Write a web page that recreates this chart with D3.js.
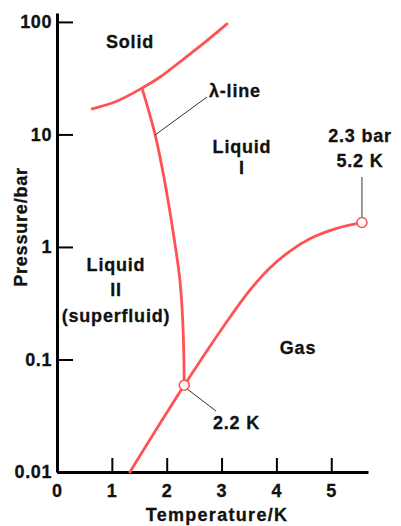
<!DOCTYPE html>
<html>
<head>
<meta charset="utf-8">
<script src="https://cdn.jsdelivr.net/npm/d3@7"></script>
<style>
  body { margin: 0; background: #fff; }
  text { font-family: "Liberation Sans", Arial, Helvetica, sans-serif; font-weight: bold; fill: #111; stroke: #111; stroke-width: 0.3px; }
</style>
</head>
<body>
<script>
// Phase diagram of helium-4
var xTicks = [0, 1, 2, 3, 4, 5];
var yTicks = [100, 10, 1, 0.1, 0.01];
var yTickLabels = ["100", "10", "1", "0.1", "0.01"];

// melting curve (solid / liquid)
var meltT = [0.64, 1.02, 1.55, 1.88, 2.24, 2.66, 3.10];
var meltP = [16.9, 19.1, 25.8, 32.4, 44.1, 63.7, 96];

// lambda line (liquid I / liquid II)
var lambdaT = [1.55, 1.79, 1.96, 2.12, 2.24, 2.30, 2.32];
var lambdaP = [25.8, 9.9, 3.9, 1.33, 0.51, 0.18, 0.059];

// vapour pressure curve
var vapT = [1.33, 2.32, 3.16, 3.52, 3.88, 4.25, 4.61, 5.10, 5.56];
var vapP = [0.01, 0.059, 0.24, 0.415, 0.65, 0.92, 1.18, 1.46, 1.65];

// special points: lambda point and critical point
var pointT = [2.32, 5.56];
var pointP = [0.059, 1.65];

var width = 401, height = 526;
var red = "#ff5252";

var svg = d3.select("body").append("svg")
  .attr("width", width)
  .attr("height", height);

svg.append("rect").attr("width", width).attr("height", height).attr("fill", "#fff");

// Set the ranges
var x = d3.scaleLinear().domain([0, 5.67]).range([57, 368]);
var y = d3.scaleLog().domain([0.01, 120]).range([472, 13]);

// Axes (ticks point inwards)
svg.append("g")
  .attr("transform", "translate(0," + y(0.01) + ")")
  .call(d3.axisTop(x).tickValues(xTicks).tickSize(14).tickSizeOuter(0).tickFormat(""));

svg.append("g")
  .attr("transform", "translate(" + x(0) + ",0)")
  .call(d3.axisRight(y).tickValues(yTicks).tickSize(16).tickSizeOuter(0).tickFormat(""));

svg.selectAll(".domain").attr("stroke", "#000").attr("stroke-width", 3);
svg.selectAll(".tick line").attr("stroke", "#000").attr("stroke-width", 2);

// tick labels
svg.selectAll(".xlab")
  .data(xTicks)
  .enter().append("text")
  .attr("x", function (d) { return x(d); })
  .attr("y", 497)
  .attr("text-anchor", "middle")
  .style("font-size", "18px")
  .text(function (d) { return d; });

svg.selectAll(".ylab")
  .data(yTicks)
  .enter().append("text")
  .attr("x", 52)
  .attr("y", function (d) { return y(d); })
  .attr("dy", "0.36em")
  .attr("text-anchor", "end")
  .style("font-size", "18px")
  .style("letter-spacing", "0.6px")
  .text(function (d, i) { return yTickLabels[i]; });

// axis titles
svg.append("text")
  .attr("x", 217)
  .attr("y", 521)
  .attr("text-anchor", "middle")
  .style("font-size", "18px")
  .style("letter-spacing", "1.3px")
  .text("Temperature/K");

svg.append("text")
  .attr("transform", "rotate(-90)")
  .attr("x", -227)
  .attr("y", 27)
  .attr("text-anchor", "middle")
  .style("font-size", "18px")
  .style("letter-spacing", "0.8px")
  .text("Pressure/bar");

// curves
function pts(ts, ps) {
  return ts.map(function (t, i) { return [t, ps[i]]; });
}

function curveLine(curve) {
  return d3.line()
    .x(function (d) { return x(d[0]); })
    .y(function (d) { return y(d[1]); })
    .curve(curve);
}

[
  [pts(meltT, meltP), d3.curveMonotoneX],
  [pts(lambdaT, lambdaP), d3.curveMonotoneY],
  [pts(vapT, vapP), d3.curveMonotoneX]
].forEach(function (c) {
  svg.append("path")
    .datum(c[0])
    .attr("d", curveLine(c[1]))
    .attr("fill", "none")
    .attr("stroke", red)
    .attr("stroke-width", 2.8)
    .attr("stroke-linecap", "round");
});

// leader lines
function leader(x1, y1, x2, y2) {
  svg.append("line")
    .attr("x1", x1).attr("y1", y1)
    .attr("x2", x2).attr("y2", y2)
    .attr("stroke", "#333")
    .attr("stroke-width", 1);
}
leader(x(lambdaT[1]), y(lambdaP[1]), 207, 97);
leader(x(pointT[1]), y(pointP[1]) - 5, x(pointT[1]), 177);
leader(x(pointT[0]) + 2, y(pointP[0]) + 3, 216, 411);

// special points
svg.selectAll(".pt")
  .data(pointT)
  .enter().append("circle")
  .attr("cx", function (d) { return x(d); })
  .attr("cy", function (d, i) { return y(pointP[i]); })
  .attr("r", 5)
  .attr("fill", "#fff")
  .attr("stroke", red)
  .attr("stroke-width", 1.6);

// region labels
function label(txt, px, py, anchor) {
  svg.append("text")
    .attr("x", px)
    .attr("y", py)
    .attr("dy", "0.36em")
    .attr("text-anchor", anchor || "middle")
    .style("font-size", "18px")
    .style("letter-spacing", "0.8px")
    .text(txt);
}
label("Solid", 130, 42);
label("Liquid", 242, 147);
label("I", 242, 168);
label("Liquid", 116, 265);
label("II", 116, 290);
label("(superfluid)", 116, 316);
label("Gas", 298, 348);
label("2.3 bar", 360, 136);
label("5.2 K", 360, 161);
label("2.2 K", 213, 423, "start");
label("\u03bb-line", 209, 91, "start");
</script>
</body>
</html>
